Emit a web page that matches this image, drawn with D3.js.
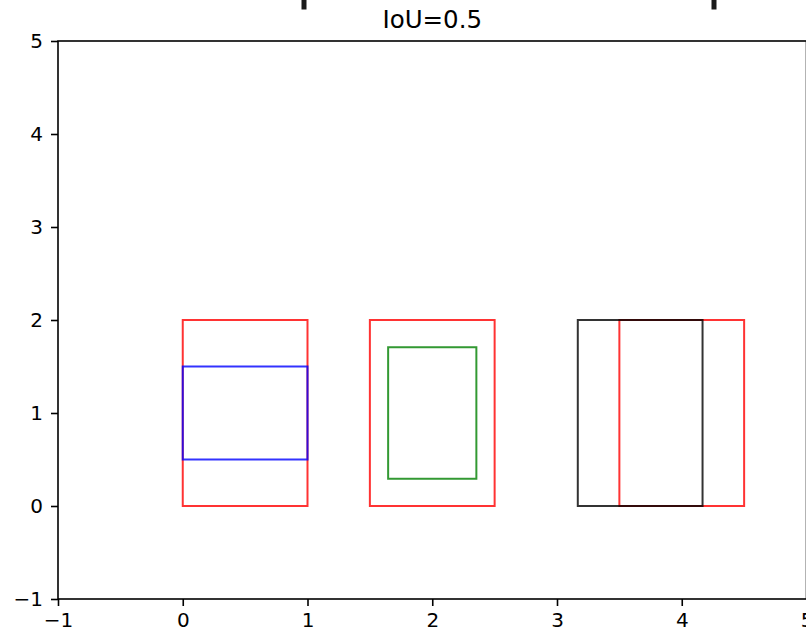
<!DOCTYPE html>
<html>
<head>
<meta charset="utf-8">
<script src="https://cdn.jsdelivr.net/npm/d3@7"></script>
<style>
  html, body { margin: 0; padding: 0; background: #fff; overflow: hidden; }
  svg { display: block; }
  text { font-family: "DejaVu Sans", sans-serif; }
</style>
</head>
<body>
<svg id="chart" width="806" height="631"></svg>
<script>
// ---- data ----
const titleText = "IoU=0.5";
const xTicks = [-1, 0, 1, 2, 3, 4, 5];
const yTicks = [-1, 0, 1, 2, 3, 4, 5];
const xDomain = [-1, 5];
const yDomain = [-1, 5];
// boxes: [x0, y0, x1, y1]
const boxNames = ["gt1", "pred1", "gt2", "pred2", "gt3", "pred3"];
const boxX0 = [0, 0, 1.5, 1.6464, 3.5, 3.1667];
const boxY0 = [0, 0.5, 0, 0.2929, 0, 0];
const boxX1 = [1, 1, 2.5, 2.3536, 4.5, 4.1667];
const boxY1 = [2, 1.5, 2, 1.7071, 2, 2];
const boxColors = ["red", "blue", "red", "green", "red", "black"];

// ---- layout ----
const svg = d3.select("#chart");
const mLeft = 58, mRight = 806.5, mTop = 41, mBottom = 599;
const x = d3.scaleLinear().domain(xDomain).range([mLeft, mRight]);
const y = d3.scaleLinear().domain(yDomain).range([mBottom, mTop]);

// cut-off marks at top of the figure (decoration)
svg.append("rect").attr("x", 301.5).attr("y", 0).attr("width", 5).attr("height", 9.5).attr("fill", "#1a1a1a");
svg.append("rect").attr("x", 711.5).attr("y", 0).attr("width", 5).attr("height", 9.5).attr("fill", "#1a1a1a");

// boxes
const boxes = boxNames.map((n, i) => ({ n, x0: boxX0[i], y0: boxY0[i], x1: boxX1[i], y1: boxY1[i], c: boxColors[i] }));
svg.append("g").selectAll("rect").data(boxes).join("rect")
  .attr("x", d => x(d.x0))
  .attr("y", d => y(d.y1))
  .attr("width", d => x(d.x1) - x(d.x0))
  .attr("height", d => y(d.y0) - y(d.y1))
  .attr("fill", "none")
  .attr("stroke", d => d.c)
  .attr("stroke-opacity", 0.8)
  .attr("stroke-width", 2);

// axes
const fs = 20;
const fmt = d => d < 0 ? "\u2212" + Math.abs(d) : String(d);
const xAxis = d3.axisBottom(x).tickValues(xTicks).tickSize(7).tickPadding(7).tickFormat(fmt);
const yAxis = d3.axisLeft(y).tickValues(yTicks).tickSize(7).tickPadding(8).tickFormat(fmt);

const gx = svg.append("g").attr("transform", `translate(0,${mBottom})`).call(xAxis);
const gy = svg.append("g").attr("transform", `translate(${mLeft},0)`).call(yAxis);
[gx, gy].forEach(g => {
  g.select(".domain").remove();
  g.selectAll(".tick line").attr("stroke", "#000").attr("stroke-width", 1.6);
  g.selectAll(".tick text").attr("fill", "#000").style("font-size", fs + "px")
    .style("font-family", "DejaVu Sans, sans-serif");
});

// spines
svg.append("rect").attr("x", mLeft).attr("y", mTop)
  .attr("width", mRight - mLeft).attr("height", mBottom - mTop)
  .attr("fill", "none").attr("stroke", "#000").attr("stroke-width", 1.6);

// title
svg.append("text").attr("x", (mLeft + mRight) / 2).attr("y", 28)
  .attr("text-anchor", "middle").style("font-size", "24.5px").attr("fill", "#000")
  .text(titleText);
</script>
</body>
</html>
